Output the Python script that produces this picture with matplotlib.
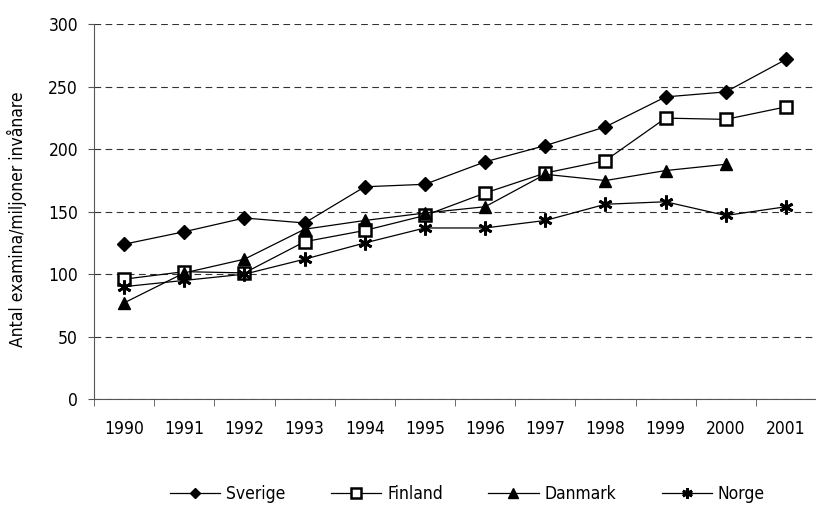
import matplotlib
matplotlib.use("Agg")
import matplotlib.pyplot as plt
import numpy as np

years = ["1990", "1991", "1992", "1993", "1994", "1995", "1996", "1997", "1998", "1999", "2000", "2001"]
sverige = [124, 134, 145, 141, 170, 172, 190, 203, 218, 242, 246, 272]
finland = [96, 102, 101, 126, 135, 147, 165, 181, 191, 225, 224, 234]
danmark = [77, 101, 112, 136, 143, 149, 154, 180, 175, 183, 188]
norge = [90, 95, 100, 112, 125, 137, 137, 143, 156, 158, 147, 154]

plt.rcParams['font.family'] = ['DejaVu Sans']
plt.rcParams['font.stretch'] = 'condensed'

fig = plt.figure(figsize=(8.16, 5.05), dpi=100)
ax = fig.add_axes([0.1152, 0.2099, 0.8848, 0.7416])

x = np.arange(len(years))
ax.plot(x, sverige, color='black', lw=0.9, marker='D', ms=7, mfc='black', mec='black', label='Sverige')
ax.plot(x, finland, color='black', lw=0.9, marker='s', ms=9, mfc='white', mec='black', mew=1.8, label='Finland')
ax.plot(x[:len(danmark)], danmark, color='black', lw=0.9, marker='^', ms=9, mfc='black', mec='black', label='Danmark')
ax.plot(x, norge, color='black', lw=0.9, marker=(6, 2, 0), ms=10, mec='black', mew=2, label='Norge')

ax.set_xlim(-0.5, len(years) - 0.5)
ax.set_ylim(0, 300)
ax.set_yticks(range(0, 301, 50))
ax.set_xticks(x)
ax.set_xticklabels(years)
ax.set_xticks(np.arange(-0.5, len(years), 1), minor=True)
ax.tick_params(axis='x', which='major', length=0, pad=15, labelsize=12.5)
ax.tick_params(axis='x', which='minor', length=5, color='#555555')
ax.tick_params(axis='y', length=4.5, pad=7, color='#555555', labelsize=12.5)

ax.yaxis.grid(True, linestyle=(0, (6, 4)), color='#333333', lw=0.8)
ax.set_axisbelow(True)
for s in ['top', 'right']:
    ax.spines[s].set_visible(False)
ax.spines['left'].set_color('#555555')
ax.spines['bottom'].set_color('#555555')

ax.set_ylabel('Antal examina/miljoner invånare', fontsize=12.5)
ax.yaxis.set_label_coords(-0.093, 0.479)

handles, labels = ax.get_legend_handles_labels()
fig.legend(handles, labels, loc='center left', bbox_to_anchor=(170 / 816, 1 - 494 / 505),
           ncol=4, frameon=False, fontsize=12.5, handlelength=2.9, columnspacing=2.6,
           handletextpad=0.35, borderaxespad=0, borderpad=0, markerscale=0.75)

fig.savefig('out.png', dpi=100)
